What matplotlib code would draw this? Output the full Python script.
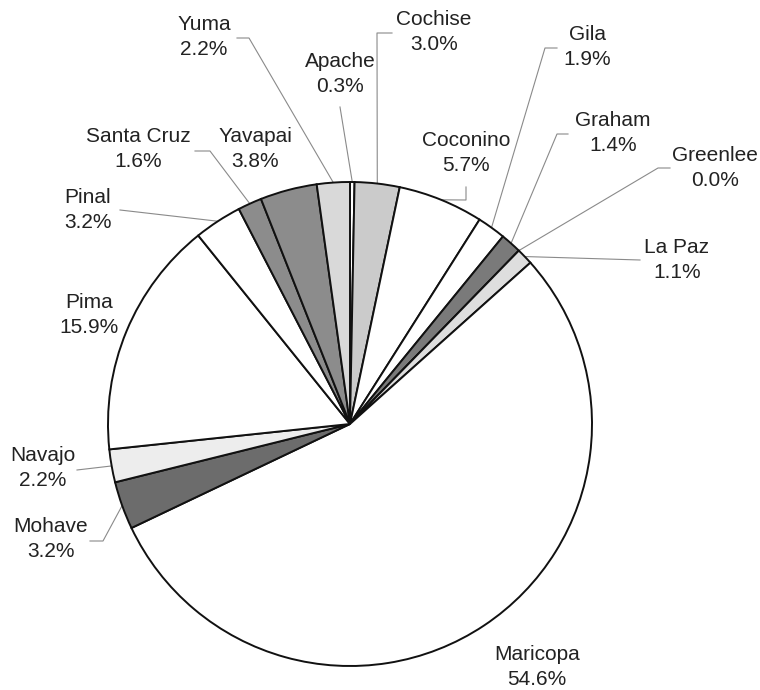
import numpy as np
import matplotlib.pyplot as plt

counties = ['Apache', 'Cochise', 'Coconino', 'Gila', 'Graham', 'Greenlee',
            'La Paz', 'Maricopa', 'Mohave', 'Navajo', 'Pima', 'Pinal',
            'Santa Cruz', 'Yavapai', 'Yuma']
shares = [0.3, 3.0, 5.7, 1.9, 1.4, 0.0, 1.1, 54.6, 3.2, 2.2, 15.9, 3.2, 1.6, 3.8, 2.2]
fills = ['#ffffff', '#cbcbcb', '#ffffff', '#ffffff', '#7a7a7a', '#ffffff',
         '#dedede', '#ffffff', '#6c6c6c', '#ededed', '#ffffff', '#ffffff',
         '#8c8c8c', '#8c8c8c', '#d9d9d9']

# label centre (pixels, y down) and leader elbow points, per county
label_pos = {
    'Apache': (340, 74), 'Cochise': (434, 32), 'Coconino': (466, 153),
    'Gila': (587, 47), 'Graham': (613, 133), 'Greenlee': (715, 168),
    'La Paz': (677, 260), 'Maricopa': (537, 667), 'Mohave': (51, 539),
    'Navajo': (43, 468), 'Pima': (89, 315), 'Pinal': (88, 210),
    'Santa Cruz': (138, 149), 'Yavapai': (255, 149), 'Yuma': (204, 37),
}
leaders = {
    'Apache': [(340, 107)], 'Cochise': [(392, 33), (377, 33)],
    'Coconino': [(466, 187), (466, 200)], 'Gila': [(557, 48), (545, 48)],
    'Graham': [(568, 134), (557, 134)], 'Greenlee': [(670, 168), (658, 168)],
    'La Paz': [(640, 260)], 'Mohave': [(90, 541), (103, 541)],
    'Navajo': [(77, 470)], 'Pinal': [(120, 210)],
    'Santa Cruz': [(195, 151), (210, 151)], 'Yuma': [(237, 38), (249, 38)],
}

W, H = 760, 690
cx, cy, R = 350, 424, 242

fig = plt.figure(figsize=(7.6, 6.9), dpi=100)
ax = fig.add_axes([0, 0, 1, 1])
wedges, _ = ax.pie(shares, colors=fills, startangle=90, counterclock=False,
                   center=(cx, H - cy), radius=R,
                   wedgeprops=dict(edgecolor='#111111', linewidth=1.4))
ax.set_xlim(0, W)
ax.set_ylim(0, H)
ax.set_aspect('equal')
ax.axis('off')

for name, val, w in zip(counties, shares, wedges):
    tx, ty = label_pos[name]
    ax.text(tx, H - ty, f'{name}\n{val:.1f}%', ha='center', va='center',
            fontsize=15, family='Liberation Sans', color='#222222',
            linespacing=1.35)
    if name in leaders:
        mid = np.deg2rad((w.theta1 + w.theta2) / 2)
        ex = w.center[0] + w.r * np.cos(mid)
        ey = w.center[1] + w.r * np.sin(mid)
        pts = leaders[name]
        xs = [p[0] for p in pts] + [ex]
        ys = [H - p[1] for p in pts] + [ey]
        ax.plot(xs, ys, color='#8a8a8a', linewidth=0.8, zorder=0.5)

plt.savefig('out.png', dpi=100)
